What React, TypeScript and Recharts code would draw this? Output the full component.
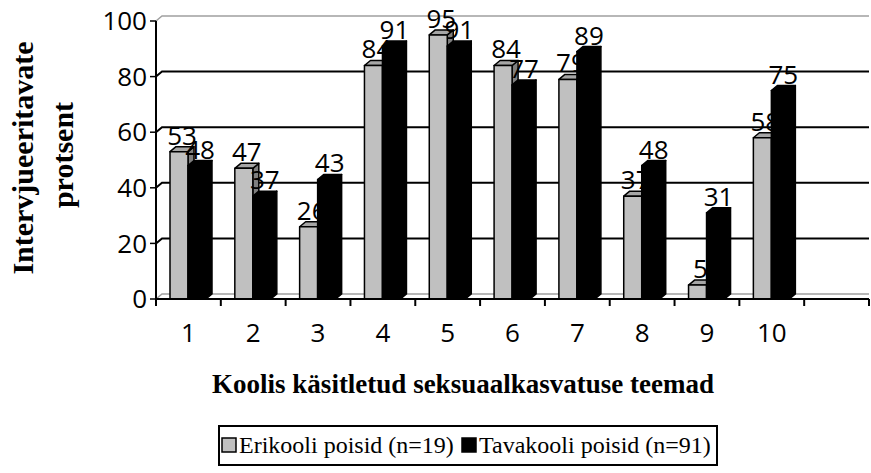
import React from 'react';
import { Bar, BarChart, CartesianGrid, LabelList, Legend, XAxis, YAxis } from 'recharts';

const teemad = ['1', '2', '3', '4', '5', '6', '7', '8', '9', '10', ''];
const erikool = [53, 47, 26, 84, 95, 84, 79, 37, 5, 58, null];
const tavakool = [48, 37, 43, 91, 91, 77, 89, 48, 31, 75, null];
const yTicks = [0, 20, 40, 60, 80, 100];

const data = teemad.map((teema, i) => ({
  teema,
  erikool: erikool[i],
  tavakool: tavakool[i],
}));

const W = 871;
const H = 473;
const MARGIN = { top: 21, right: 2, left: 100, bottom: 144 };
const Y_AXIS_W = 56;
const X_AXIS_H = 30;
const PLOT_LEFT = MARGIN.left + Y_AXIS_W;
const PLOT_W = W - PLOT_LEFT - MARGIN.right;
const BAND = PLOT_W / teemad.length;
// 3D depth of the bars and the back wall
const DX = 6;
const DY = 5;

const SANS = '"Open Sans", sans-serif';
const SERIF = '"Liberation Serif", "Times New Roman", serif';

function Bar3D(props: any) {
  const { x, y, width, height, fill, sideFill, topFill } = props;
  if (!height || height <= 0) return null;
  const r = x + width;
  const b = y + height;
  return (
    <g stroke="#000" strokeWidth={1.5} strokeLinejoin="round">
      <polygon points={`${r},${y} ${r + DX},${y - DY} ${r + DX},${b - DY} ${r},${b}`} fill={sideFill} />
      <polygon points={`${x},${y} ${x + DX},${y - DY} ${r + DX},${y - DY} ${r},${y}`} fill={topFill} />
      <rect x={x} y={y} width={width} height={height} fill={fill} />
    </g>
  );
}

function ValueLabel(props: any) {
  const { x, y, width, value } = props;
  if (value == null) return null;
  return (
    <text x={x + width / 2 + 3} y={y - 7} textAnchor="middle" fontFamily={SANS} fontSize={26} fill="#000">
      {value}
    </text>
  );
}

function TeemaTick(props: any) {
  const { x, y, payload, index } = props;
  const half = BAND / 2;
  return (
    <g>
      <line x1={x - half} y1={y} x2={x - half} y2={y + 7} stroke="#000" strokeWidth={2} />
      {index === teemad.length - 1 && (
        <line x1={x + half} y1={y} x2={x + half} y2={y + 7} stroke="#000" strokeWidth={2} />
      )}
      <text x={x} y={y + 33} textAnchor="middle" dominantBaseline="central" fontFamily={SANS} fontSize={26} fill="#000">
        {payload.value}
      </text>
    </g>
  );
}

function GridLine(props: any) {
  const { x1, x2, y1 } = props;
  const edge = Math.abs(y1 - MARGIN.top) < 1 || Math.abs(y1 - (H - MARGIN.bottom - X_AXIS_H)) < 1;
  return (
    <polyline
      points={`${x1},${y1} ${x1 + DX},${y1 - DY} ${x2},${y1 - DY}`}
      fill="none"
      stroke={edge ? '#a0a0a0' : '#000'}
      strokeWidth={edge ? 1.5 : 2}
    />
  );
}

function XTitle() {
  return (
    <text x={463} y={393} textAnchor="middle" fontFamily={SERIF} fontWeight="bold" fontSize={27} fill="#000">
      Koolis käsitletud seksuaalkasvatuse teemad
    </text>
  );
}

function YTitle() {
  return (
    <g fontFamily={SERIF} fontWeight="bold" fontSize={30} fill="#000">
      <text x={33} y={158} textAnchor="middle" transform="rotate(-90 33 158)">
        Intervjueeritavate
      </text>
      <text x={73} y={155} textAnchor="middle" transform="rotate(-90 73 155)">
        protsent
      </text>
    </g>
  );
}

function LegendBox(props: any) {
  const items = props.payload || [];
  const slots = [
    { sq: 4, tx: 21 },
    { sq: 244, tx: 261 },
  ];
  return (
    <svg width={500} height={41} style={{ display: 'block' }}>
      <rect x={1} y={1} width={498} height={39} fill="#fff" stroke="#000" strokeWidth={2} />
      {items.map((it: any, i: number) => (
        <g key={it.value}>
          <rect x={slots[i].sq} y={13} width={14} height={14} fill={it.color} stroke="#000" strokeWidth={1.5} />
          <text x={slots[i].tx} y={28} fontFamily={SERIF} fontSize={24} fill="#000">
            {it.value}
          </text>
        </g>
      ))}
    </svg>
  );
}

export default function App() {
  return (
    <div style={{ position: 'absolute', left: 0, top: 0, background: '#fff' }}>
      <BarChart width={W} height={H} data={data} margin={MARGIN} barGap={0} barSize={18}>
        <CartesianGrid vertical={false} horizontal={(p: any) => <GridLine key={p.key} {...p} />} />
        <XAxis
          dataKey="teema"
          height={X_AXIS_H}
          interval={0}
          tickSize={0}
          tickMargin={0}
          tick={<TeemaTick />}
          axisLine={{ stroke: '#000', strokeWidth: 2 }}
          label={<XTitle />}
        />
        <YAxis
          width={Y_AXIS_W}
          domain={[0, 100]}
          ticks={yTicks}
          interval={0}
          tickSize={6}
          tickMargin={3}
          tick={{ fill: '#000', fontSize: 26, fontFamily: SANS }}
          tickLine={{ stroke: '#000', strokeWidth: 1.5 }}
          axisLine={{ stroke: '#000', strokeWidth: 2 }}
          label={<YTitle />}
        />
        <Legend
          layout="horizontal"
          verticalAlign="middle"
          align="center"
          wrapperStyle={{ left: 218, top: 425, width: 500, height: 41 }}
          content={<LegendBox />}
        />
        <Bar
          dataKey="erikool"
          name="Erikooli poisid (n=19)"
          fill="#c0c0c0"
          isAnimationActive={false}
          shape={(p: any) => <Bar3D {...p} sideFill="#7f7f7f" topFill="#a6a6a6" />}
        >
          <LabelList dataKey="erikool" content={<ValueLabel />} />
        </Bar>
        <Bar
          dataKey="tavakool"
          name="Tavakooli poisid (n=91)"
          fill="#000000"
          isAnimationActive={false}
          shape={(p: any) => <Bar3D {...p} sideFill="#000" topFill="#000" />}
        >
          <LabelList dataKey="tavakool" content={<ValueLabel />} />
        </Bar>
      </BarChart>
    </div>
  );
}
